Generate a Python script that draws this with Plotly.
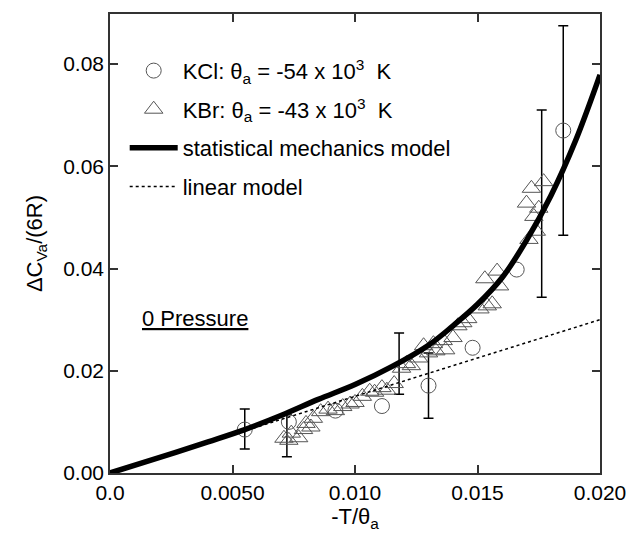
import plotly.graph_objects as go

# KCl data (circles)
kcl_x = [0.0055, 0.0073, 0.0092, 0.0111, 0.0130, 0.0148, 0.0166, 0.0185]
kcl_y = [0.0085, 0.0100, 0.0122, 0.0131, 0.0171, 0.0245, 0.0398, 0.0670]

# KBr data (triangles)
kbr_x = [0.0071, 0.0073, 0.0074, 0.0077, 0.0079, 0.0080, 0.0082, 0.0083,
         0.0086, 0.0089, 0.0092, 0.0095, 0.0098, 0.0100, 0.0103, 0.0106,
         0.0108, 0.0111, 0.0113, 0.0116, 0.0119, 0.0121, 0.0123, 0.0126,
         0.0128, 0.0130, 0.0132, 0.0133, 0.0136, 0.0137, 0.0140, 0.0142,
         0.0144, 0.0146, 0.0151, 0.0154, 0.0156, 0.0153, 0.0158, 0.0159,
         0.0171, 0.0174, 0.0173, 0.0175, 0.0170, 0.0172, 0.0177]
kbr_y = [0.0068, 0.0064, 0.0078, 0.0069, 0.0085, 0.0097, 0.0090, 0.0107,
         0.0120, 0.0125, 0.0122, 0.0130, 0.0135, 0.0138, 0.0150, 0.0160,
         0.0158, 0.0167, 0.0162, 0.0175, 0.0205, 0.0214, 0.0210, 0.0225,
         0.0249, 0.0235, 0.0253, 0.0239, 0.0259, 0.0241, 0.0265, 0.0288,
         0.0294, 0.0302, 0.0321, 0.0327, 0.0331, 0.0380, 0.0395, 0.0366,
         0.0457, 0.0473, 0.0502, 0.0518, 0.0528, 0.0557, 0.0570]

# Error bars
err_x = [0.0055, 0.00722, 0.0118, 0.0130, 0.01762, 0.0185]
err_y = [0.0086, 0.0073, 0.0214, 0.0171, 0.0527, 0.0670]
err_half = [0.0039, 0.0041, 0.0060, 0.0064, 0.0183, 0.0205]

# Statistical mechanics model curve
stat_x = [0, 0.002, 0.004, 0.0055, 0.007, 0.0085, 0.010, 0.0115, 0.013,
          0.014, 0.015, 0.016, 0.017, 0.018, 0.019, 0.020]
stat_y = [0, 0.0030, 0.0061, 0.0085, 0.0113, 0.0144, 0.0173, 0.0208, 0.0250,
          0.0288, 0.0330, 0.0382, 0.0455, 0.0543, 0.0650, 0.0779]

# Linear model
lin_x = [0, 0.020]
lin_y = [0, 0.030]

x_tickvals = [0, 0.005, 0.010, 0.015, 0.020]
x_ticktext = ["0.0", "0.0050", "0.010", "0.015", "0.020"]
y_tickvals = [0, 0.02, 0.04, 0.06, 0.08]
y_ticktext = ["0.00", "0.02", "0.04", "0.06", "0.08"]

FONT = "Liberation Sans, Arial, sans-serif"
fig = go.Figure()

fig.add_trace(go.Scatter(
    x=err_x, y=err_y, mode="markers", showlegend=False,
    marker=dict(size=1, color="rgba(0,0,0,0)"),
    error_y=dict(type="data", array=err_half, color="black", thickness=1.5, width=5),
    hoverinfo="skip"))

fig.add_trace(go.Scatter(
    x=kcl_x, y=kcl_y, mode="markers", legendgroup="a",
    name="KCl: θ<sub>a</sub> = -54 x 10<sup>3</sup>  K",
    marker=dict(symbol="circle-open", size=15, color="#555555", line=dict(width=1))))

fig.add_trace(go.Scatter(
    x=kbr_x, y=kbr_y, mode="markers", legendgroup="b",
    name="KBr: θ<sub>a</sub> = -43 x 10<sup>3</sup>  K",
    marker=dict(symbol="triangle-up-open", size=16, color="#555555", line=dict(width=1))))

fig.add_trace(go.Scatter(
    x=stat_x, y=stat_y, mode="lines", name="statistical mechanics model", legendgroup="c",
    line=dict(color="black", width=5.5, shape="spline")))

fig.add_trace(go.Scatter(
    x=lin_x, y=lin_y, mode="lines", name="linear model", legendgroup="d",
    line=dict(color="black", width=1.5, dash="3px,3px")))

fig.add_annotation(x=0.00347, y=0.0302, xref="x", yref="y",
                   text="<u>0 Pressure</u>", showarrow=False,
                   font=dict(family=FONT, size=22, color="black"))

axis_common = dict(showline=True, linecolor="#333333", linewidth=1.5, mirror="ticks",
                   ticks="inside", ticklen=8, tickwidth=1.5, tickcolor="#333333",
                   showgrid=False, zeroline=False,
                   tickfont=dict(family=FONT, size=21, color="black"))

fig.update_layout(
    width=638, height=539,
    margin=dict(l=110, r=32, t=12, b=66),
    plot_bgcolor="white", paper_bgcolor="white",
    font=dict(family=FONT, size=21, color="black"),
    xaxis=dict(range=[0, 0.020], tickvals=x_tickvals, ticktext=x_ticktext,
               title=dict(text="-T/θ<sub>a</sub>", font=dict(family=FONT, size=22), standoff=6),
               **axis_common),
    yaxis=dict(range=[0, 0.0898], tickvals=y_tickvals, ticktext=y_ticktext,
               title=dict(text="ΔC<sub>Va</sub>/(6R)", font=dict(family=FONT, size=22), standoff=14),
               **axis_common),
    legend=dict(x=0.03, y=0.922, xanchor="left", yanchor="top",
                bgcolor="rgba(0,0,0,0)", borderwidth=0, itemwidth=48,
                font=dict(family=FONT, size=22, color="black"), tracegroupgap=7),
)

fig.write_html("out.html")
